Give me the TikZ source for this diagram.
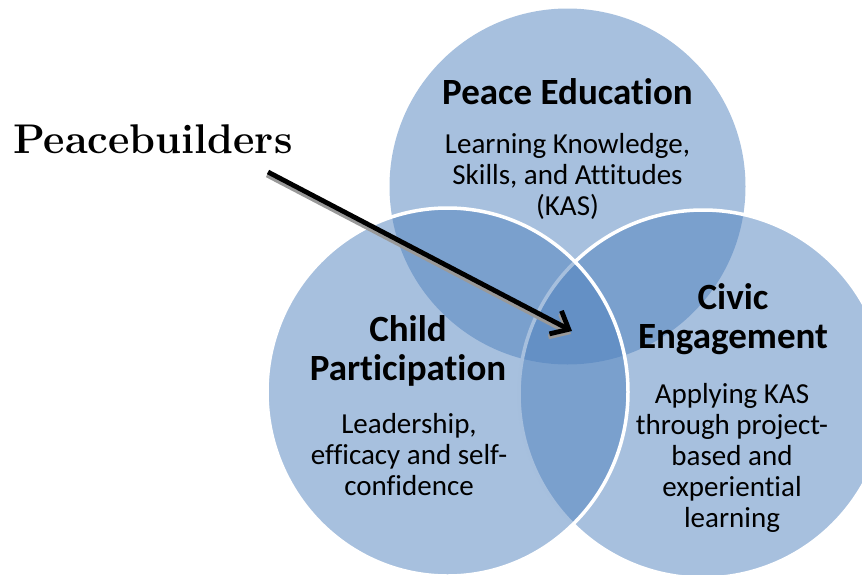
\documentclass[tikz,border=0pt]{standalone}
\usepackage{fontspec}
\newfontfamily\calibri[Ligatures=NoCommon]{Carlito}
\usetikzlibrary{arrows.meta}

\definecolor{vennblue}{RGB}{79,129,189}

\tikzset{
  venn/.style={fill=vennblue, fill opacity=0.5},
  vennline/.style={venn, draw=white, line width=3.5pt},
  heading/.style={font=\calibri\bfseries\fontsize{37}{38.5}\selectfont, align=center, inner sep=0pt},
  blurb/.style={font=\calibri\fontsize{29}{31}\selectfont, align=center, inner sep=0pt},
  pointer/.style={line width=4.8pt, -{Straight Barb[length=15pt, width=26pt]}},
}

\begin{document}
\begin{tikzpicture}[x=1pt, y=-1pt]
    \useasboundingbox (0,0) rectangle (862,574);
    \clip (0,0) rectangle (862,574);

    % the three circles, top one first
    \fill[venn] (567.5,186.5) circle [radius=178];
    \draw[vennline] (703,394) circle [radius=184];
    \draw[vennline] (447.5,392) ellipse [x radius=180.5, y radius=184];

    % circle texts (base = last line)
    \node[heading, anchor=base] (peace) at (567.5,104) {Peace Education};
    \node[blurb, anchor=base] (kas) at (567.5,215) {Learning Knowledge,\\Skills, and Attitudes\\(KAS)};
    \node[heading, anchor=base] (child) at (408,380) {Child\\Participation};
    \node[blurb, anchor=base] (lead) at (409,495) {Leadership,\\efficacy and self-\\confidence};
    \node[heading, anchor=base] (civic) at (733,348) {Civic\\Engagement};
    \node[blurb, anchor=base] (apply) at (732,527) {Applying KAS\\through project-\\based and\\experiential\\learning};

    % label and arrow into the middle
    \node[anchor=base west, inner sep=0pt, font=\bfseries\fontsize{41.5}{43}\selectfont] (builders) at (13,153) {Peacebuilders};
    \coordinate (tail) at (268,172);
    \coordinate (tip) at (572,331);
    \draw[pointer, black!40, transform canvas={shift={(-1pt,-3pt)}}] (tail) -- (tip);
    \draw[pointer] (tail) -- (tip);
\end{tikzpicture}
\end{document}
